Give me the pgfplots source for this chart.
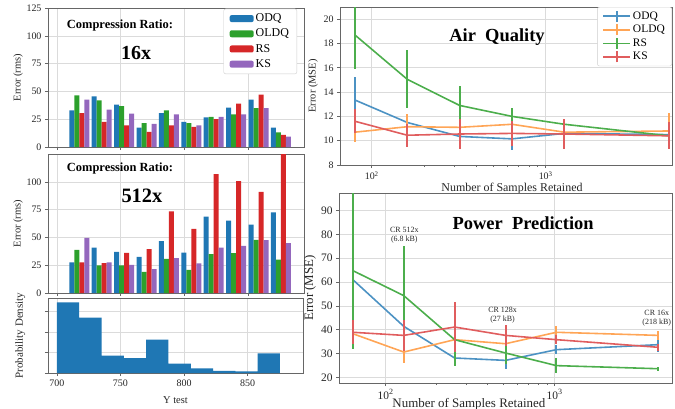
\documentclass[border=0pt]{standalone}
\usepackage{pgfplots}
\pgfplotsset{compat=1.18}
\usepackage{fontspec}
\setmainfont{Liberation Serif}

\definecolor{tblue}{HTML}{1F77B4}
\definecolor{tgreen}{HTML}{2CA02C}
\definecolor{tred}{HTML}{D62728}
\definecolor{tpurple}{HTML}{9467BD}
\definecolor{torange}{HTML}{FF7F0E}
\colorlet{lblue}{tblue!80!white}
\colorlet{lorange}{torange!70!white}
\colorlet{lgreen}{tgreen!85!white}
\colorlet{lred}{tred!75!white}

\pgfplotsset{
  mpl/.style={
    scale only axis,
    anchor=north west,
    axis line style={draw=black!60},
    grid=major,
    grid style={black!14, line width=0.6pt},
    tick pos=left,
    tick align=outside,
    major tick length=3bp,
    minor tick length=2bp,
    tick style={draw=black!60, line width=0.6pt},
    tick label style={font=\fontsize{10}{12}\selectfont, text=black!85},
    /pgf/number format/assume math mode=true,
    scaled ticks=false,
    label style={font=\fontsize{10.5}{12}\selectfont, text=black!85},
  },
  barleg/.style={legend image code/.code={\fill[##1] (0bp,-3.5bp) rectangle (24bp,3.5bp);}},
  errleg/.style={legend image code/.code={
      \draw[##1] (0bp,0bp) -- (27bp,0bp);
      \draw[##1] (13.5bp,-5.5bp) -- (13.5bp,5.5bp);}},
  errlines/.style={
    error bars/y dir=both, error bars/y explicit, error bars/error mark=none},
  ser/.style={#1, line width=1.6pt,
    error bars/error bar style={#1, line width=2pt}},
}

\begin{document}
\begin{tikzpicture}
\useasboundingbox (0,0) rectangle (675bp,-409bp);

% ---------- top left: CR 16x ----------
\begin{axis}[mpl, at={(48bp,-8bp)}, width=256bp, height=139bp,
  xmin=693, xmax=893.6, ymin=0, ymax=125,
  xtick={700,750,800,850}, xticklabels={},
  ytick={0,25,50,75,100,125},
  ybar=0pt, bar width=5bp,
  ylabel={Error (rms)},
  ylabel style={at={(axis description cs:-0.117,0.5)}, anchor=center},
  legend style={at={(0.973,0.995)}, anchor=north east, draw=black!20, rounded corners=2pt,
    font=\fontsize{12}{14}\selectfont, row sep=1.8bp, inner ysep=3bp, inner xsep=6bp, fill=white},
  legend cell align=left,
]
\addplot[fill=tblue, draw=none, barleg] coordinates {
  (717.55,33) (735.10,45.5) (752.65,38) (770.20,17.4) (787.75,30.5)
  (805.30,22.5) (822.85,26.6) (840.40,35.3) (857.95,42.5) (875.50,17.4)};
\addlegendentry{ODQ}
\addplot[fill=tgreen, draw=none, barleg] coordinates {
  (717.55,46.4) (735.10,42) (752.65,36.8) (770.20,21.5) (787.75,33)
  (805.30,21.5) (822.85,27) (840.40,29.3) (857.95,35) (875.50,13.2)};
\addlegendentry{OLDQ}
\addplot[fill=tred, draw=none, barleg] coordinates {
  (717.55,30.5) (735.10,22.5) (752.65,19.5) (770.20,13.5) (787.75,19.5)
  (805.30,18) (822.85,25) (840.40,39) (857.95,47) (875.50,11)};
\addlegendentry{RS}
\addplot[fill=tpurple, draw=none, barleg] coordinates {
  (717.55,42.5) (735.10,33.5) (752.65,30) (770.20,20.7) (787.75,29.3)
  (805.30,19.5) (822.85,27) (840.40,29.3) (857.95,35) (875.50,9.3)};
\addlegendentry{KS}
\node[font=\bfseries\fontsize{12.5}{14}\selectfont] at (axis description cs:0.281,0.877) {Compression Ratio:};
\node[font=\bfseries\fontsize{20}{22}\selectfont] at (axis description cs:0.344,0.675) {16x};
\end{axis}

% ---------- middle left: CR 512x ----------
\begin{axis}[mpl, at={(48bp,-154bp)}, width=256bp, height=139bp,
  xmin=693, xmax=893.6, ymin=0, ymax=125,
  xtick={700,750,800,850}, xticklabels={},
  ytick={0,25,50,75,100},
  ybar=0pt, bar width=5bp,
  ylabel={Error (rms)},
  ylabel style={at={(axis description cs:-0.117,0.5)}, anchor=center},
]
\addplot[fill=tblue, draw=none] coordinates {
  (717.55,27.5) (735.10,40.9) (752.65,37) (770.20,32.5) (787.75,46.6)
  (805.30,36.4) (822.85,68.7) (840.40,65) (857.95,61.5) (875.50,72.5)};
\addplot[fill=tgreen, draw=none] coordinates {
  (717.55,38.8) (735.10,24.8) (752.65,24.8) (770.20,19) (787.75,30.7)
  (805.30,20.9) (822.85,35) (840.40,35.8) (857.95,47.8) (875.50,30)};
\addplot[fill=tred, draw=none] coordinates {
  (717.55,27.5) (735.10,26.9) (752.65,36) (770.20,39.4) (787.75,73.4)
  (805.30,57.6) (822.85,107) (840.40,100.6) (857.95,91) (875.50,140)};
\addplot[fill=tpurple, draw=none] coordinates {
  (717.55,49.6) (735.10,27.5) (752.65,25.4) (770.20,21.5) (787.75,31.3)
  (805.30,26.6) (822.85,40.9) (840.40,42.4) (857.95,47.5) (875.50,44.8)};
\node[font=\bfseries\fontsize{12.5}{14}\selectfont] at (axis description cs:0.281,0.899) {Compression Ratio:};
\node[font=\bfseries\fontsize{20.5}{22}\selectfont] at (axis description cs:0.367,0.698) {512x};
\end{axis}

% ---------- bottom left: histogram ----------
\begin{axis}[mpl, at={(48bp,-298bp)}, width=255bp, height=75bp,
  xmin=693, xmax=893.6, ymin=0, ymax=3.65,
  xtick={700,750,800,850}, ytick={0,1,2,3}, yticklabels={},
  xlabel={Y test}, ylabel={Probability Density},
  xlabel style={at={(axis description cs:0.5,-0.36)}, anchor=center},
  ylabel style={font=\fontsize{11}{12}\selectfont, at={(axis description cs:-0.109,0.5)}, anchor=center},
]
\addplot[ybar interval, fill=tblue, draw=none] coordinates {
  (700,3.44) (717.55,2.69) (735.10,0.85) (752.65,0.72) (770.20,1.63)
  (787.75,0.46) (805.30,0.22) (822.85,0.10) (840.40,0.08) (857.95,0.96) (875.50,0.96)};
\end{axis}

% ---------- top right: Air Quality ----------
\begin{axis}[mpl, errlines, xmode=log, at={(340bp,-7bp)}, width=332bp, height=158bp,
  xmin=65.7, xmax=5320, ymin=8, ymax=21,
  ytick={8,10,...,20},
  xtick={100,1000}, xticklabels={10\textsuperscript{2},10\textsuperscript{3}},
  xlabel={Number of Samples Retained}, ylabel={Error (MSE)},
  xlabel style={font=\fontsize{12}{14}\selectfont, at={(axis description cs:0.518,-0.146)}, anchor=center},
  ylabel style={at={(axis description cs:-0.081,0.5)}, anchor=center},
  legend style={at={(1,1)}, anchor=north east, draw=black!20, rounded corners=2pt,
    font=\fontsize{11.5}{12}\selectfont, row sep=0.5bp, inner ysep=2.5bp, inner xsep=5bp, fill=white},
  legend cell align=left,
]
\addplot[ser=lblue, errleg] coordinates {
  (80,13.35) +- (0,1.85) (160,11.5) +- (0,0.6) (320,10.35) +- (0,0.5)
  (640,10.15) +- (0,0.95) (1280,10.6) +- (0,0.6) (5120,10.5) +- (0,0.5)};
\addlegendentry{ODQ}
\addplot[ser=lorange, errleg] coordinates {
  (80,10.7) +- (0,0.8) (160,11.15) +- (0,1.05) (320,11.1) +- (0,0.6)
  (640,11.35) +- (0,0.5) (1280,10.7) +- (0,0.5) (5120,10.8) +- (0,1.5)};
\addlegendentry{OLDQ}
\addplot[ser=lgreen, errleg] coordinates {
  (80,18.7) +- (0,2.8) (160,15.05) +- (0,2.4) (320,12.9) +- (0,1.6)
  (640,12.0) +- (0,0.65) (1280,11.35) +- (0,0.4) (5120,10.4) +- (0,0.3)};
\addlegendentry{RS}
\addplot[ser=lred, errleg] coordinates {
  (80,11.6) +- (0,1.0) (160,10.45) +- (0,0.95) (320,10.55) +- (0,1.25)
  (640,10.6) +- (0,1.05) (1280,10.55) +- (0,1.25) (5120,10.4) +- (0,1.1)};
\addlegendentry{KS}
\node[font=\bfseries\fontsize{18.5}{20}\selectfont] at (axis description cs:0.473,0.81) {Air\enspace Quality};
\end{axis}

% ---------- bottom right: Power Prediction ----------
\begin{axis}[mpl, errlines, xmode=log, at={(339bp,-193bp)}, width=333bp, height=190bp,
  xmin=53, xmax=4945, ymin=17.6, ymax=97.4,
  ytick={20,30,...,90},
  tick label style={font=\fontsize{11.5}{13}\selectfont, text=black!85},
  xtick={100,1000}, xticklabels={10\textsuperscript{2},10\textsuperscript{3}},
  xlabel={Number of Samples Retained}, ylabel={Error (MSE)},
  xlabel style={font=\fontsize{13}{14}\selectfont, at={(axis description cs:0.39,-0.11)}, anchor=center},
  ylabel style={font=\fontsize{13}{14}\selectfont, at={(axis description cs:-0.087,0.5)}, anchor=center},
]
\addplot[ser=lblue] coordinates {
  (64,61) +- (0,2) (128,41.4) +- (0,3) (256,28.1) +- (0,2)
  (512,27.1) +- (0,3.5) (1024,31.6) +- (0,2) (4096,33.7) +- (0,3.2)};
\addplot[ser=lorange] coordinates {
  (64,38.3) +- (0,2) (128,30.6) +- (0,4.6) (256,35.8) +- (0,2)
  (512,34.1) +- (0,2) (1024,38.9) +- (0,2.5) (4096,37.6) +- (0,2)};
\addplot[ser=lgreen] coordinates {
  (64,64.8) +- (0,33) (128,54.3) +- (0,20.7) (256,35.8) +- (0,11)
  (512,30.2) +- (0,4.5) (1024,24.9) +- (0,3) (4096,23.6) +- (0,0.8)};
\addplot[ser=lred] coordinates {
  (64,38.9) +- (0,5) (128,37.6) +- (0,6.6) (256,41.1) +- (0,10.5)
  (512,37.6) +- (0,4.5) (1024,35.8) +- (0,2) (4096,32.6) +- (0,1.5)};
\node[font=\bfseries\fontsize{18.5}{20}\selectfont] at (axis description cs:0.553,0.842) {Power\enspace Prediction};
\node[font=\fontsize{8}{9}\selectfont, align=center, text=black!85] at (axis cs:129,79.7) {CR 512x\\(6.8 kB)};
\node[font=\fontsize{8}{9}\selectfont, align=center, text=black!85] at (axis cs:492,45.9) {CR 128x\\(27 kB)};
\node[font=\fontsize{8}{9}\selectfont, align=center, text=black!85] at (axis cs:4018,44.7) {CR 16x\\(218 kB)};
\end{axis}
\end{tikzpicture}
\end{document}
